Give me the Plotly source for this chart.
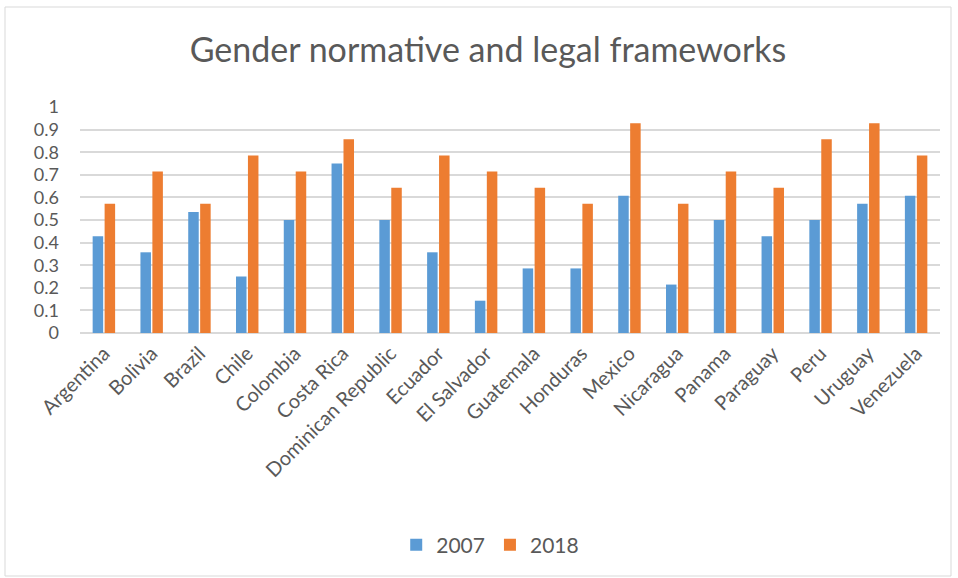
import plotly.graph_objects as go

countries = ["Argentina", "Bolivia", "Brazil", "Chile", "Colombia", "Costa Rica",
             "Dominican Republic", "Ecuador", "El Salvador", "Guatemala", "Honduras",
             "Mexico", "Nicaragua", "Panama", "Paraguay", "Peru", "Uruguay", "Venezuela"]
values_2007 = [0.4286, 0.3571, 0.5357, 0.25, 0.5, 0.75, 0.5, 0.3571, 0.1429, 0.2857,
               0.2857, 0.6071, 0.2143, 0.5, 0.4286, 0.5, 0.5714, 0.6071]
values_2018 = [0.5714, 0.7143, 0.5714, 0.7857, 0.7143, 0.8571, 0.6429, 0.7857, 0.7143,
               0.6429, 0.5714, 0.9286, 0.5714, 0.7143, 0.6429, 0.8571, 0.9286, 0.7857]
y_ticks = [0, 0.1, 0.2, 0.3, 0.4, 0.5, 0.6, 0.7, 0.8, 0.9, 1]
y_tick_labels = ["0", "0.1", "0.2", "0.3", "0.4", "0.5", "0.6", "0.7", "0.8", "0.9", "1"]

FONT = "Lato, Open Sans, sans-serif"
GREY = "#595959"

fig = go.Figure()
fig.add_trace(go.Bar(name="2007", x=countries, y=values_2007, marker_color="#5B9BD5",
                     marker_line_width=0))
fig.add_trace(go.Bar(name="2018", x=countries, y=values_2018, marker_color="#ED7D31",
                     marker_line_width=0))

fig.update_layout(
    width=958, height=578,
    margin=dict(l=80, r=18, t=107, b=245, autoexpand=False),
    paper_bgcolor="white", plot_bgcolor="white",
    barmode="group", bargap=0.5, bargroupgap=0.12,
    font=dict(family=FONT, color=GREY),
    title=dict(text="Gender normative and legal frameworks", x=488 / 958, xanchor="center",
               y=1 - 50 / 578, yanchor="middle", yref="container",
               font=dict(size=34, color=GREY, family=FONT)),
    showlegend=True,
    legend=dict(orientation="h", x=0.477, xanchor="center", y=-0.938, yanchor="middle",
                font=dict(size=21, color=GREY), traceorder="normal"),
    xaxis=dict(tickangle=-45, tickfont=dict(size=20, color=GREY), showgrid=False,
               showline=True, linecolor="#d9d9d9", ticks="", automargin=False),
    yaxis=dict(range=[0, 1], tickvals=y_ticks, ticktext=y_tick_labels,
               tickfont=dict(size=18, color=GREY), showgrid=True, gridcolor="#d9d9d9",
               gridwidth=1.5, zeroline=True, zerolinecolor="#d9d9d9", ticks="",
               ticklabelstandoff=20, automargin=False),
    shapes=[dict(type="rect", xref="paper", yref="paper",
                 x0=(5 - 80) / 860, x1=(951 - 80) / 860,
                 y0=(333 - 576) / 226, y1=(333 - 7) / 226,
                 line=dict(color="#d9d9d9", width=1), fillcolor="rgba(0,0,0,0)",
                 layer="below")],
)

fig.write_html("out.html", config={"displayModeBar": False},
               post_script="document.body.style.margin='0';document.body.style.overflow='hidden';")
